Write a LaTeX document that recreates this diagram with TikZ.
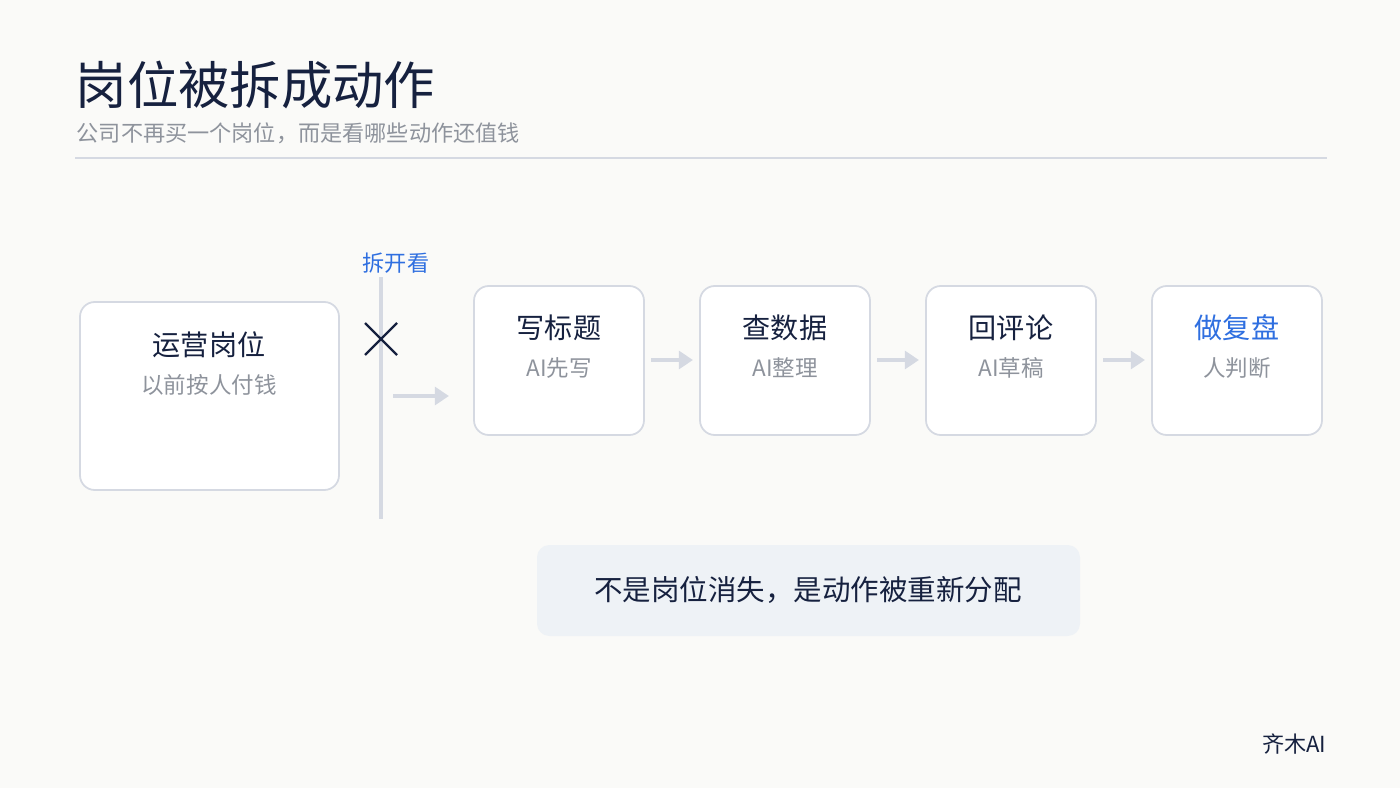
\documentclass[tikz,border=0pt]{standalone}
\usepackage{fontspec}
\setmainfont{Noto Sans CJK SC}
\usetikzlibrary{arrows.meta}
\definecolor{bg}{HTML}{FAFAF8}
\definecolor{navy}{HTML}{16213F}
\definecolor{gr}{HTML}{8E939C}
\definecolor{ln}{HTML}{D5D9E2}
\definecolor{bl}{HTML}{2F6FE0}
\definecolor{pan}{HTML}{EEF2F6}
\tikzset{
 card/.style={draw=ln,line width=0.5pt,fill=white,rounded corners=4.2pt},
 ttl/.style={font=\fontsize{8}{9}\selectfont,text=navy},
 sub/.style={font=\fontsize{6.4}{7}\selectfont,text=gr},
 arr/.style={draw=ln,line width=1pt,-{Triangle[length=4pt,width=5pt]}}
}
\begin{document}
\begin{tikzpicture}[x=0.01cm,y=-0.01cm]
\fill[bg] (0,0) rectangle (1400,788);
\useasboundingbox (0,0) rectangle (1400,788);
\node[anchor=west,inner sep=0,font=\fontsize{14.6}{16}\selectfont,text=navy] (title) at (75,85) {岗位被拆成动作};
\node[anchor=west,inner sep=0,font=\fontsize{6.3}{7}\selectfont,text=gr] (subt) at (76,133) {公司不再买一个岗位，而是看哪些动作还值钱};
\draw[ln,line width=0.5pt] (75,158) -- (1327,158);
% left card
\draw[card] (80,302) rectangle (339,490);
\node[ttl] (jt) at (209,345) {运营岗位};
\node[sub] (js) at (209,385) {以前按人付钱};
% divider
\coordinate (vt) at (381,277); \coordinate (vb) at (381,519);
\draw[ln,line width=1.2pt] (vt) -- (vb);
\node[anchor=west,inner sep=0,font=\fontsize{6.3}{7}\selectfont,text=bl] (cut) at (362,263) {拆开看};
\draw[navy,line width=0.7pt] (365,323) -- (397,355) (365,355) -- (397,323);
\coordinate (a0) at (393,396); \coordinate (a1) at (449,396);
\draw[arr] (a0) -- (a1);
% action cards
\foreach \x/\t/\s/\c [count=\i] in {474/写标题/AI先写/navy,700/查数据/AI整理/navy,926/回评论/AI草稿/navy,1152/做复盘/人判断/bl}{
 \draw[card] (\x,286) rectangle ++(170,149);
 \node[ttl,text=\c] (t\i) at (\x+85,328) {\t};
 \node[sub] (s\i) at (\x+85,368) {\s};
}
\foreach \x in {651,877,1103}{
 \draw[arr] (\x,360) -- (\x+42,360);
}
% bottom panel
\fill[pan,rounded corners=3.5pt] (537,545) rectangle (1080,636);
\node[font=\fontsize{8.1}{9}\selectfont,text=navy] (msg) at (808,590) {不是岗位消失，是动作被重新分配};
\node[anchor=east,inner sep=0,font=\fontsize{6.3}{7}\selectfont,text=navy] (brand) at (1327,744) {齐木AI};
\end{tikzpicture}
\end{document}
